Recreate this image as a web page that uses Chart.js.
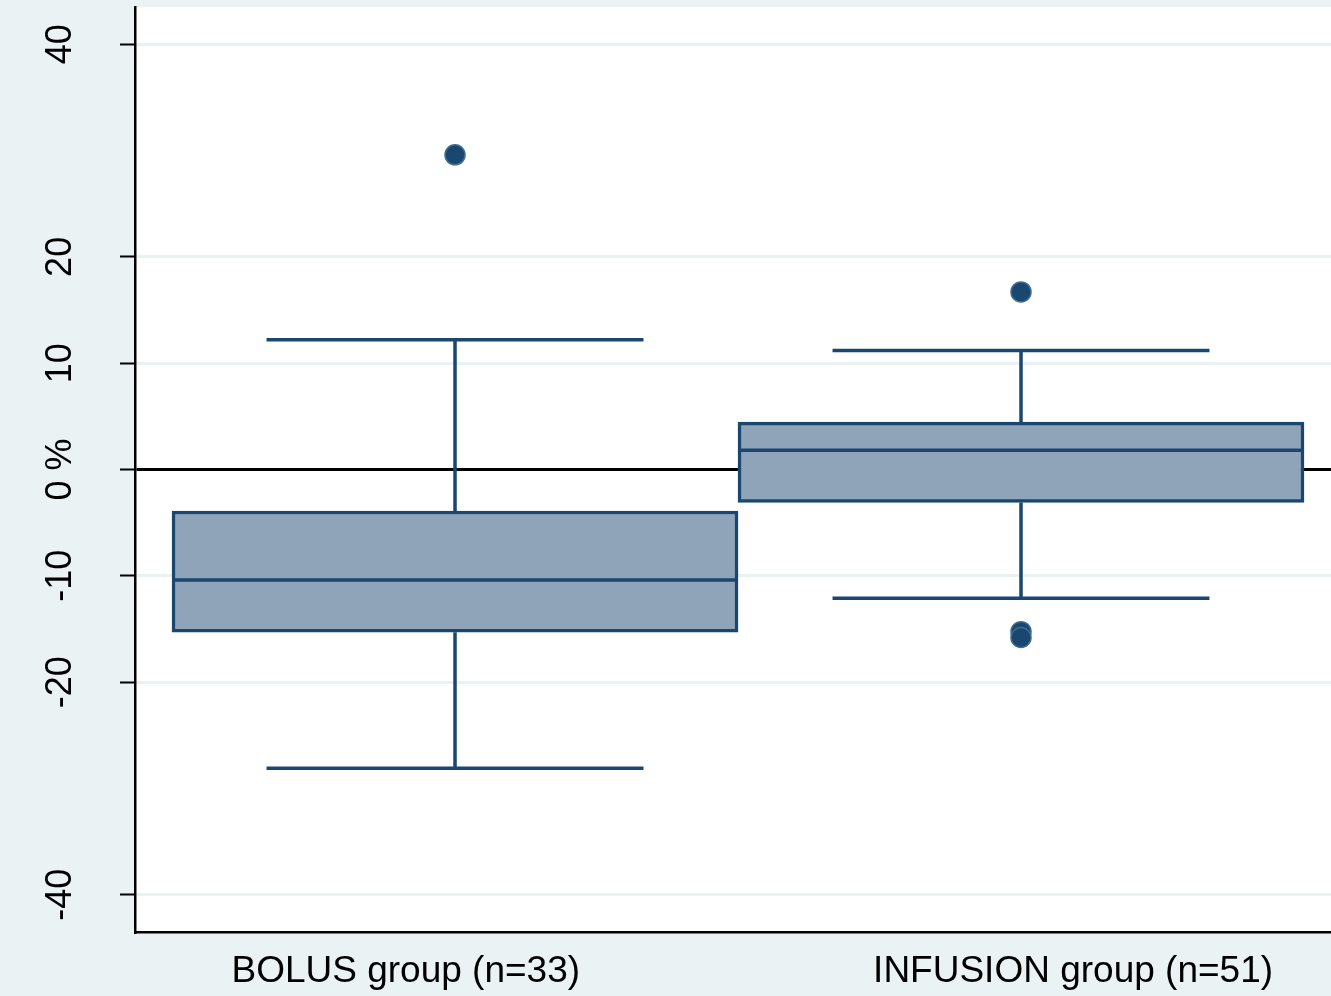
<!DOCTYPE html>
<html>
<head>
<meta charset="utf-8">
<script src="https://cdn.jsdelivr.net/npm/chart.js@4.4.1/dist/chart.umd.min.js"></script>
<style>
    html, body { margin: 0; padding: 0; background: #EAF2F3; }
    #wrap { width: 1331px; height: 996px; }
</style>
</head>
<body>
<div id="wrap"><canvas id="boxChart"></canvas></div>
<script>
// --- data ---
const categories = ['BOLUS group (n=33)', 'INFUSION group (n=51)'];
const q1 = [-15.3, -3.1];
const median = [-10.4, 1.8];
const q3 = [-3.9, 4.45];
const whiskerLow = [-28.1, -12.1];
const whiskerHigh = [12.2, 11.2];
const outliers = [[29.6], [16.7, -15.25, -15.8]];

const yTicks = [-40, -20, -10, 0, 10, 20, 40];
const yTickLabels = ['-40', '-20', '-10', '0 %', '10', '20', '40'];

const navy = '#1A476F';
const boxFill = '#90A4B9';
const capHalf = 0.333;   // whisker cap half-width, in category units
const labelShift = [-0.087, 0.092]; // Stata puts the group labels a bit off-centre

// helpers to turn the arrays into chart points
function segment(points, x1, y1, x2, y2) {
    points.push({ x: x1, y: y1 }, { x: x2, y: y2 }, { x: x2, y: null });
}

const whiskerPts = [];
const medianPts = [];
categories.forEach((c, i) => {
    const x = i + 1;
    segment(whiskerPts, x, q3[i], x, whiskerHigh[i]);
    segment(whiskerPts, x - capHalf, whiskerHigh[i], x + capHalf, whiskerHigh[i]);
    segment(whiskerPts, x, q1[i], x, whiskerLow[i]);
    segment(whiskerPts, x - capHalf, whiskerLow[i], x + capHalf, whiskerLow[i]);
    segment(medianPts, x - 0.5, median[i], x + 0.5, median[i]);
});

const outlierPts = [];
outliers.forEach((list, i) => list.forEach(v => outlierPts.push({ x: i + 1, y: v })));

// background: light blue outside, white plot region
const plotBg = {
    id: 'plotBg',
    beforeDraw(chart) {
        const { ctx, chartArea } = chart;
        ctx.save();
        ctx.fillStyle = '#EAF2F3';
        ctx.fillRect(0, 0, chart.width, chart.height);
        ctx.fillStyle = '#FFFFFF';
        ctx.fillRect(chartArea.left, chartArea.top, chartArea.right - chartArea.left, chartArea.bottom - chartArea.top);
        ctx.restore();
    }
};

Chart.defaults.font.family = '"Liberation Sans", Arial, sans-serif';
Chart.defaults.color = '#000';

new Chart(document.getElementById('boxChart'), {
    type: 'bar',
    data: {
        datasets: [{
            type: 'scatter',
            data: outlierPts,
            pointRadius: 10,
            pointBackgroundColor: navy,
            pointBorderColor: '#3F6A92',
            pointBorderWidth: 1.5,
            order: 0
        }, {
            type: 'line',
            data: whiskerPts,
            borderColor: navy,
            borderWidth: 3.5,
            pointRadius: 0,
            spanGaps: false,
            fill: false,
            order: 1
        }, {
            type: 'line',
            data: medianPts,
            borderColor: navy,
            borderWidth: 3.5,
            pointRadius: 0,
            spanGaps: false,
            fill: false,
            order: 1
        }, {
            type: 'bar',
            data: categories.map((c, i) => ({ x: i + 1, y: [q1[i], q3[i]] })),
            backgroundColor: boxFill,
            borderColor: navy,
            borderWidth: 3.5,
            borderSkipped: false,
            categoryPercentage: 1,
            barPercentage: 1,
            order: 2
        }]
    },
    options: {
        responsive: true,
        maintainAspectRatio: false,
        animation: false,
        layout: { autoPadding: false, padding: { top: 7, left: 0, right: 0, bottom: 0 } },
        plugins: {
            legend: { display: false },
            tooltip: { enabled: false }
        },
        scales: {
            x: {
                type: 'linear',
                min: 0.4346,
                max: 2.5477,
                offset: false,
                grid: { display: false, offset: false },
                border: { display: true, color: '#000', width: 2.5 },
                afterBuildTicks: axis => {
                    axis.ticks = categories.map((c, i) => ({ value: i + 1 + labelShift[i] }));
                },
                ticks: {
                    autoSkip: false,
                    maxRotation: 0,
                    padding: 10,
                    font: { size: 37 },
                    callback: (v, idx) => categories[idx]
                },
                afterFit: axis => { axis.height = 64; }
            },
            y: {
                type: 'linear',
                min: -43.5,
                max: 43.5,
                afterBuildTicks: axis => {
                    axis.ticks = yTicks.map(v => ({ value: v }));
                },
                grid: {
                    color: ctx => (ctx.tick && ctx.tick.value === 0) ? '#000' : '#EAF2F3',
                    lineWidth: 3,
                    tickColor: '#000',
                    tickWidth: 2,
                    tickLength: 15,
                    drawTicks: true
                },
                border: { display: true, color: '#000', width: 2.5 },
                ticks: {
                    minRotation: 90,
                    maxRotation: 90,
                    crossAlign: 'center',
                    padding: 28,
                    font: { size: 36 },
                    callback: (v, idx) => yTickLabels[idx]
                },
                afterFit: axis => {
                    axis.width = 135;
                    axis.paddingTop = 0;
                    axis.paddingBottom = 0;
                }
            }
        }
    },
    plugins: [plotBg]
});
</script>
</body>
</html>
